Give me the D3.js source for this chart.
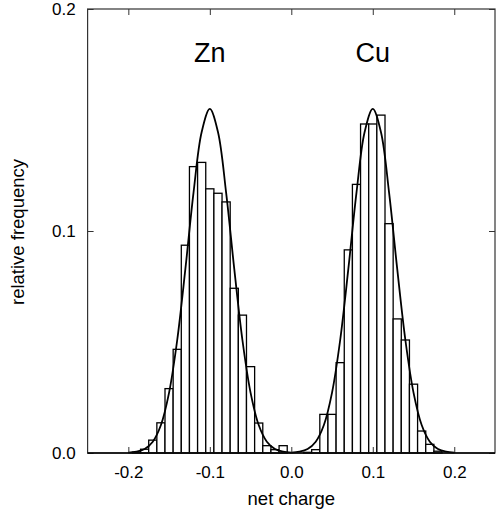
<!DOCTYPE html>
<html>
<head>
<meta charset="utf-8">
<script src="https://cdn.jsdelivr.net/npm/d3@7"></script>
<style>
  html, body { margin: 0; padding: 0; background: #fff; }
  svg { display: block; }
  text { font-family: "Liberation Sans", Arial, Helvetica, sans-serif; fill: #000; }
</style>
</head>
<body>
<svg id="chart" width="496" height="516"></svg>
<script>
// ---- data ----
const binWidth = 0.01;
const znBinCenters = [-0.19,-0.18,-0.17,-0.16,-0.15,-0.14,-0.13,-0.12,-0.11,-0.10,-0.09,-0.08,-0.07,-0.06,-0.05,-0.04,-0.03,-0.02,-0.01];
const znFreq       = [0.0004,0.0017,0.0058,0.0136,0.0290,0.0467,0.0936,0.1290,0.1309,0.1190,0.1170,0.1131,0.0742,0.0621,0.0389,0.0135,0.0033,0.0015,0.0033];
const cuBinCenters = [0.02,0.03,0.04,0.05,0.06,0.07,0.08,0.09,0.10,0.11,0.12,0.13,0.14,0.15,0.16,0.17,0.18];
const cuFreq       = [0.0003,0.0015,0.0174,0.0174,0.0407,0.0915,0.1210,0.1482,0.1482,0.1522,0.1033,0.0604,0.0509,0.0310,0.0099,0.0039,0.0008];

// fitted curves
const znCurveX = [-0.20,-0.19,-0.18,-0.17,-0.16,-0.15,-0.14,-0.13,-0.12,-0.11,-0.10,-0.09,-0.08,-0.07,-0.06,-0.05,-0.04,-0.03,-0.02,-0.01,0.00];
const znCurveY = [0.0002,0.0006,0.0018,0.0051,0.0126,0.0272,0.0509,0.0829,0.1173,0.1446,0.1550,0.1446,0.1173,0.0829,0.0509,0.0272,0.0126,0.0051,0.0018,0.0006,0.0002];
const cuCurveX = [0.00,0.01,0.02,0.03,0.04,0.05,0.06,0.07,0.08,0.09,0.10,0.11,0.12,0.13,0.14,0.15,0.16,0.17,0.18,0.19,0.20];
const cuCurveY = [0.0002,0.0006,0.0018,0.0051,0.0126,0.0272,0.0509,0.0829,0.1173,0.1446,0.1550,0.1446,0.1173,0.0829,0.0509,0.0272,0.0126,0.0051,0.0018,0.0006,0.0002];

const xTicks = [-0.2,-0.1,0.0,0.1,0.2];
const xTickLabels = ["-0.2","-0.1","0.0","0.1","0.2"];
const yTicks = [0.0,0.1,0.2];
const yTickLabels = ["0.0","0.1","0.2"];
const xDomain = [-0.25, 0.25];
const yDomain = [0, 0.2];
const peakLabels = ["Zn","Cu"];
const peakLabelX = [-0.1, 0.1];
const xTitle = "net charge";
const yTitle = "relative frequency";

// ---- layout ----
const svg = d3.select("#chart");
const L = 87.6, R = 495, T = 9, B = 453;
const x = d3.scaleLinear().domain(xDomain).range([L, R]);
const y = d3.scaleLinear().domain(yDomain).range([B, T]);

// histograms
function drawBars(centers, freq, cls) {
  svg.append("g").attr("class", cls)
    .selectAll("rect")
    .data(centers.map((c, i) => ({c, f: freq[i]})))
    .join("rect")
    .attr("x", d => x(d.c - binWidth / 2))
    .attr("width", d => x(d.c + binWidth / 2) - x(d.c - binWidth / 2))
    .attr("y", d => y(d.f))
    .attr("height", d => y(0) - y(d.f))
    .attr("fill", "#fff")
    .attr("stroke", "#000")
    .attr("stroke-width", 1.3);
}
drawBars(znBinCenters, znFreq, "zn");
drawBars(cuBinCenters, cuFreq, "cu");

// curves
const line = d3.line().x(d => x(d[0])).y(d => y(d[1])).curve(d3.curveCatmullRom.alpha(0.5));
[[znCurveX, znCurveY], [cuCurveX, cuCurveY]].forEach(([xs, ys]) => {
  svg.append("path")
    .datum(xs.map((v, i) => [v, ys[i]]))
    .attr("d", line)
    .attr("fill", "none")
    .attr("stroke", "#000")
    .attr("stroke-width", 1.8);
});

// axes
const tickLen = 6;
const axB = d3.axisBottom(x).tickValues(xTicks).tickFormat((d, i) => xTickLabels[i])
  .tickSizeInner(-tickLen).tickSizeOuter(0).tickPadding(13);
const axT = d3.axisTop(x).tickValues(xTicks).tickFormat("").tickSizeInner(-tickLen).tickSizeOuter(0);
const axL = d3.axisLeft(y).tickValues(yTicks).tickFormat((d, i) => yTickLabels[i])
  .tickSizeInner(-tickLen).tickSizeOuter(0).tickPadding(12);
const axR = d3.axisRight(y).tickValues(yTicks).tickFormat("").tickSizeInner(-tickLen).tickSizeOuter(0);

function style(g) {
  g.select(".domain").remove();
  g.selectAll(".tick line").attr("stroke", "#333").attr("stroke-width", 1);
  g.selectAll(".tick text").attr("font-size", 17).attr("font-family", "Liberation Sans, Arial, sans-serif").attr("fill", "#000");
}
svg.append("g").attr("transform", `translate(0,${B})`).call(axB).call(style);
svg.append("g").attr("transform", `translate(0,${T})`).call(axT).call(style);
svg.append("g").attr("transform", `translate(${L},0)`).call(axL).call(style);
svg.append("g").attr("transform", `translate(${R},0)`).call(axR).call(style);

// frame
svg.append("rect")
  .attr("x", L).attr("y", T).attr("width", R - L).attr("height", B - T)
  .attr("fill", "none").attr("stroke", "#333").attr("stroke-width", 1.2);
svg.append("line").attr("x1", L).attr("x2", R).attr("y1", B).attr("y2", B)
  .attr("stroke", "#000").attr("stroke-width", 1.6);

// peak labels
svg.selectAll("text.peak").data(peakLabels).join("text")
  .attr("class", "peak")
  .attr("x", (d, i) => x(peakLabelX[i]))
  .attr("y", 62)
  .attr("text-anchor", "middle")
  .attr("font-size", 27)
  .text(d => d);

// titles
svg.append("text").attr("x", x(0)).attr("y", 505).attr("text-anchor", "middle")
  .attr("font-size", 18.5).text(xTitle);
svg.append("text").attr("transform", `translate(24,232) rotate(-90)`).attr("text-anchor", "middle")
  .attr("font-size", 18.5).text(yTitle);
</script>
</body>
</html>
